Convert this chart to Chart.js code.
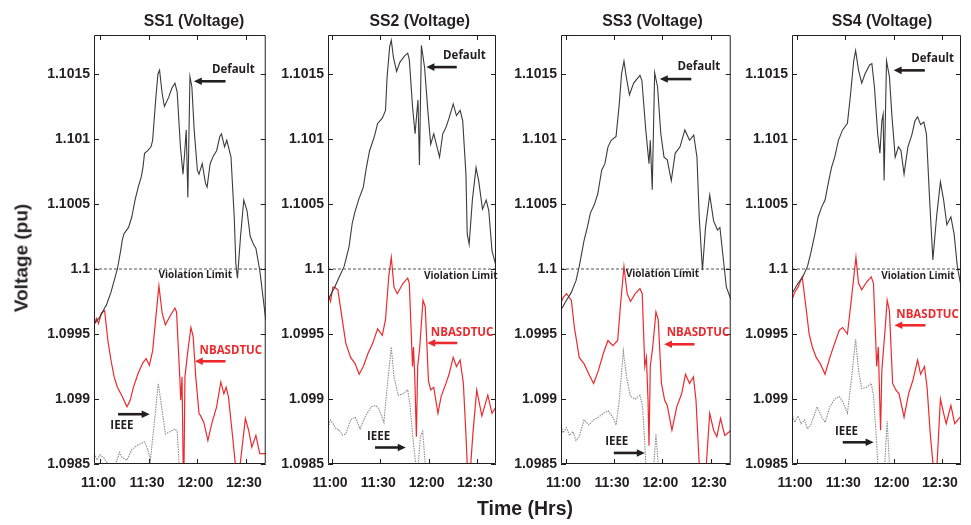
<!DOCTYPE html>
<html>
<head>
<meta charset="utf-8">
<script src="https://cdn.jsdelivr.net/npm/chart.js@4.4.1/dist/chart.umd.min.js"></script>
<style>
  html,body{margin:0;padding:0;background:#fff;}
  #wrap{position:relative;width:971px;height:525px;overflow:hidden;background:#fff;}
  canvas{position:absolute;top:0;}
  .txt{position:absolute;font-family:"Liberation Sans",Arial,sans-serif;font-weight:bold;color:#231f20;white-space:nowrap;line-height:1;}
</style>
</head>
<body>
<div id="wrap"></div>
<script>
// ---------------- DATA ----------------
const xTicks = [0, 30, 60, 90];
const xTickLabels = ['11:00', '11:30', '12:00', '12:30'];
const yTicks = [1.0985, 1.099, 1.0995, 1.1, 1.1005, 1.101, 1.1015];
const yTickLabels = ['1.0985', '1.099', '1.0995', '1.1', '1.1005', '1.101', '1.1015'];
const panelTitles = ['SS1 (Voltage)', 'SS2 (Voltage)', 'SS3 (Voltage)', 'SS4 (Voltage)'];
const seriesNames = ['Default', 'NBASDTUC', 'IEEE'];
const violationLimit = 1.1;
const yMin = 1.0985, yMax = 1.1018;

// [minutes after 11:00, voltage pu]
const ss1Default = [[-3.8,1.09958],[-0.4,1.09963],[2.6,1.0997],[3.6,1.09972],[6.5,1.09982],[8.5,1.09991],[10.5,1.1],[12.5,1.10014],[13.5,1.10022],[14.5,1.10027],[17.4,1.10032],[19.4,1.1004],[21.4,1.10053],[23.4,1.10063],[25.3,1.10071],[26.3,1.10078],[27.3,1.10089],[29.3,1.10091],[31.3,1.10094],[32.3,1.10099],[34.3,1.10132],[35.6,1.1015],[36.6,1.10153],[38.2,1.10135],[39.6,1.10125],[42.2,1.10132],[44.2,1.10139],[46.1,1.10143],[47.5,1.10136],[49.5,1.10094],[51.1,1.10073],[52.1,1.10089],[53.1,1.10107],[54.1,1.10055],[55.4,1.10148],[56.6,1.1014],[58,1.10107],[60,1.10076],[61,1.10073],[63,1.10081],[65,1.10066],[66,1.10063],[67.9,1.10081],[69.9,1.10087],[71.9,1.10091],[73.9,1.10102],[74.9,1.10104],[76.8,1.10094],[78.2,1.10099],[80.8,1.10086],[82.8,1.1004],[83.8,1.10004],[84.8,1.09993],[86.7,1.10025],[88.7,1.10053],[90.7,1.10045],[92.7,1.10025],[94.7,1.10019],[96.2,1.10016],[98.6,1.09999],[102.3,1.09961]];
const ss1Red = [[-3.8,1.09957],[-2.5,1.09962],[-1.2,1.09958],[0.6,1.09966],[2.6,1.09968],[4.6,1.09945],[6.5,1.0993],[8.5,1.09917],[10.5,1.09909],[13.5,1.09902],[16.4,1.09894],[18.4,1.09899],[20.4,1.09909],[23.4,1.0992],[26.3,1.09928],[28.3,1.09931],[30.3,1.09926],[32.3,1.09937],[34.3,1.09963],[36.2,1.09987],[38.2,1.09966],[40.2,1.09957],[43.2,1.09964],[46.1,1.0997],[47.1,1.09967],[49.1,1.09917],[49.7,1.09899],[50.5,1.09917],[51.5,1.0982],[52.3,1.09917],[54.1,1.09937],[56,1.09955],[57.4,1.09948],[59,1.09917],[61,1.09889],[62,1.09887],[64,1.09882],[66.5,1.09868],[68.9,1.09881],[71.9,1.09894],[74.5,1.09913],[76.4,1.09904],[77.8,1.09909],[79.2,1.09902],[81.8,1.09871],[83.5,1.0985],[85,1.0983],[86.5,1.0985],[89.7,1.09885],[91.7,1.09876],[93.7,1.09863],[96.2,1.09872],[98.6,1.09858],[102.3,1.09858]];
const ss1Ieee = [[-3.8,1.09858],[-2,1.09853],[-0.4,1.09857],[2,1.09855],[4.6,1.0985],[7,1.09846],[10,1.09852],[11.8,1.09859],[13.5,1.09855],[16.4,1.09853],[19.4,1.09861],[22.4,1.09864],[25.3,1.09866],[27.3,1.09867],[29.3,1.09861],[30.9,1.09853],[33.3,1.09881],[35.8,1.09912],[38.2,1.09891],[40.2,1.09873],[43.2,1.09875],[46.1,1.09877],[47.5,1.09875],[48.7,1.0985],[50,1.0982]];

const ss2Default = [[-2.6,1.09976],[1.6,1.09986],[4.5,1.09994],[7.5,1.10002],[10.5,1.10017],[12.5,1.10035],[14,1.10043],[16.4,1.10053],[19.4,1.10063],[21.3,1.10078],[23.3,1.10091],[26.3,1.10102],[28.3,1.10112],[31.2,1.10116],[33.2,1.10122],[34.2,1.10148],[35.8,1.10171],[36.8,1.10176],[38.1,1.10163],[40.1,1.10152],[42.1,1.10159],[45.1,1.10164],[47,1.10166],[48,1.10161],[50,1.10125],[51.6,1.10104],[52.6,1.10119],[53.4,1.1013],[54.3,1.1008],[55.5,1.10172],[57.5,1.10155],[59.5,1.10122],[61.3,1.10096],[63.2,1.10104],[64.8,1.10096],[66.8,1.10086],[68.8,1.10104],[70.8,1.10109],[72.7,1.10116],[75.3,1.10127],[77.3,1.10118],[79.6,1.10122],[81.2,1.10114],[83.2,1.10073],[84,1.10027],[85.2,1.10019],[87.2,1.10053],[89.5,1.10078],[91.1,1.10068],[93.5,1.10046],[95.8,1.10053],[97.4,1.10045],[99.4,1.10014],[102,1.10002]];
const ss2Red = [[-2.6,1.09981],[-1,1.09975],[0.5,1.09986],[1.6,1.09986],[3.6,1.09984],[5.5,1.09968],[8.5,1.09943],[11.5,1.09932],[14.4,1.09927],[16.8,1.09919],[19.4,1.09925],[22.3,1.09935],[25.3,1.09943],[28.3,1.09954],[31.2,1.09949],[33.2,1.09961],[35.2,1.09994],[36.8,1.10009],[38.5,1.09986],[40.5,1.09981],[44.1,1.09989],[47,1.09993],[48,1.09989],[50,1.09925],[50.6,1.0994],[51.4,1.09917],[52.4,1.09871],[53.2,1.09925],[54.5,1.0994],[56.5,1.09976],[57.9,1.09971],[59.9,1.09914],[61.3,1.09907],[63.2,1.09909],[65.8,1.09889],[67.8,1.09902],[70.8,1.09912],[72.7,1.09919],[75.3,1.09932],[77.3,1.09925],[79.6,1.0993],[81.6,1.09912],[83.2,1.09873],[84,1.0985],[85,1.0983],[86.2,1.0985],[87.5,1.09873],[89.9,1.09907],[93.1,1.09887],[96.8,1.09903],[99.4,1.09889],[102,1.09894]];
const ss2Ieee = [[-2.6,1.09878],[-1,1.09884],[0.6,1.09881],[2.5,1.09877],[4.5,1.09876],[6.5,1.09872],[8.5,1.09873],[11.5,1.09884],[14.4,1.09886],[17.4,1.09877],[20.4,1.09886],[24.3,1.09894],[27.3,1.09895],[29.2,1.09892],[32.2,1.09882],[34.2,1.09909],[36.8,1.0994],[38.5,1.09917],[41.1,1.09903],[44.1,1.09904],[47,1.09907],[48.4,1.09896],[50,1.09873],[52,1.0985],[53,1.0984],[54.9,1.09871],[56.3,1.09875],[57.9,1.0985],[58.9,1.0983]];

const ss3Default = [[-3,1.09968],[0.6,1.09976],[3.6,1.09982],[6.5,1.09991],[8.5,1.10002],[11.5,1.10022],[13.5,1.10032],[15.4,1.10043],[18,1.1005],[20,1.10058],[22.4,1.10076],[24.4,1.10081],[26.3,1.10094],[28.3,1.10099],[31.3,1.10102],[33.3,1.10127],[34.7,1.1015],[36.2,1.1016],[37.6,1.10148],[39.6,1.10134],[42.2,1.10143],[46.1,1.10149],[47.3,1.10145],[49.7,1.10107],[51.7,1.10081],[52.5,1.10099],[53.7,1.10061],[55.2,1.10151],[57,1.1014],[59,1.10104],[61,1.10086],[63,1.10084],[65.5,1.10068],[67.9,1.10089],[70.9,1.10094],[73.9,1.10107],[76.8,1.10099],[79.4,1.10103],[81.4,1.10086],[82.8,1.1004],[84.8,1.09999],[86.7,1.10032],[89.3,1.10057],[91.7,1.10037],[94.1,1.1003],[95.6,1.10032],[97.6,1.10009],[99.6,1.09986],[102.6,1.09976]];
const ss3Red = [[-3,1.09973],[-1.5,1.09978],[0.6,1.09981],[3.6,1.09976],[5.5,1.09955],[8.5,1.09932],[11.5,1.09927],[14.5,1.09919],[17.4,1.09912],[20.4,1.09922],[23.4,1.09935],[26.3,1.09945],[29.3,1.09941],[32.3,1.09945],[34.3,1.09976],[36.2,1.10002],[38.2,1.09981],[40.2,1.09975],[43.2,1.09981],[46.1,1.09985],[47.5,1.09981],[49.1,1.09925],[50.1,1.09932],[51.1,1.09899],[51.7,1.09864],[52.5,1.09925],[54,1.0994],[56,1.09967],[57.4,1.09961],[59.4,1.09912],[61.4,1.09899],[63,1.09895],[65.9,1.09876],[68.9,1.09894],[71.9,1.09904],[74.3,1.09919],[76.8,1.09912],[79.2,1.09917],[80.8,1.09899],[82.8,1.0985],[85,1.0983],[87.2,1.0985],[89.3,1.09889],[91.7,1.09876],[93.7,1.09871],[96,1.09885],[98.6,1.09872],[102.6,1.09876]];
const ss3Ieee = [[-3,1.09881],[-1.5,1.09874],[0.6,1.09878],[2.5,1.09872],[4.6,1.09875],[6.5,1.09868],[8.5,1.09871],[11.5,1.09884],[14.5,1.0988],[17.4,1.09884],[20.4,1.09886],[23.4,1.09889],[26.3,1.09891],[29.3,1.09886],[31.3,1.0988],[33.3,1.09899],[35.8,1.09937],[37.8,1.09917],[40.2,1.09902],[43.2,1.099],[46.1,1.09903],[47.7,1.09894],[49.1,1.09866],[50.1,1.0984],[52,1.0983],[54.7,1.0985],[56,1.09873],[57.4,1.0985],[58.5,1.0983]];

const ss4Default = [[-3.2,1.09981],[0.6,1.09989],[3.6,1.09994],[6.5,1.10002],[8.5,1.10012],[11.1,1.10027],[13.1,1.1004],[15.4,1.10048],[17.4,1.10053],[19.4,1.10066],[21.4,1.10078],[23.4,1.10086],[25.7,1.10099],[28.3,1.10107],[31.3,1.10112],[33.3,1.10135],[35.2,1.1016],[36.4,1.10168],[38.2,1.10153],[40.2,1.10143],[42.2,1.1015],[45.1,1.10157],[46.5,1.10158],[48.1,1.1014],[50.1,1.10104],[51.5,1.10089],[52.7,1.10114],[53.5,1.10119],[54.1,1.10068],[55.6,1.1016],[57.4,1.10148],[59,1.10117],[61,1.10086],[63,1.10094],[64.6,1.10091],[66.5,1.10073],[68.9,1.10094],[71.3,1.10103],[73.3,1.10114],[74.9,1.10117],[76.8,1.10111],[78.8,1.10113],[80.4,1.10104],[82.4,1.10053],[84.4,1.10007],[86.7,1.1004],[89.1,1.10067],[91.1,1.10053],[93.1,1.10034],[95.6,1.1004],[97.6,1.10027],[99.6,1.10002],[102,1.09986]];
const ss4Red = [[-3.2,1.09976],[-1.5,1.09982],[0.6,1.09986],[3.2,1.09994],[5.5,1.09971],[7.5,1.0995],[9.5,1.0994],[11.9,1.09932],[14.5,1.09927],[17.4,1.09919],[20.4,1.09932],[23.4,1.09943],[26.3,1.09953],[28.3,1.09955],[31.3,1.0995],[33.7,1.09976],[36.6,1.10009],[38.2,1.09989],[40.2,1.09984],[43.2,1.0999],[46.1,1.09994],[47.5,1.09989],[49.5,1.09925],[50.5,1.0994],[51.1,1.09912],[51.9,1.09876],[52.7,1.09922],[54.5,1.0995],[56,1.09976],[57.4,1.09968],[59.4,1.09912],[61.4,1.09907],[63.4,1.09904],[66.5,1.09886],[69.3,1.09904],[71.9,1.09914],[74.9,1.0993],[76.8,1.09919],[79.2,1.09925],[80.8,1.09909],[82.8,1.09873],[84.5,1.0985],[85.7,1.0983],[87,1.0985],[89.1,1.099],[91.1,1.09889],[92.7,1.09881],[95.6,1.09895],[98,1.09881],[102,1.09887]];
const ss4Ieee = [[-3.2,1.09889],[-1.5,1.09882],[0.6,1.09887],[2.5,1.09881],[4.6,1.09884],[6.5,1.09877],[8.5,1.0988],[12.5,1.09894],[15.4,1.09886],[17.4,1.09882],[20.4,1.09894],[23.4,1.099],[26.3,1.09902],[28.3,1.09898],[31.3,1.09889],[33.7,1.09914],[36.4,1.09946],[38.2,1.09922],[40.2,1.09908],[43.2,1.09909],[46.1,1.09912],[47.5,1.09903],[49.1,1.09873],[50.7,1.0984],[52.5,1.0983],[54.5,1.0985],[56,1.09883],[57.4,1.0985],[58.5,1.0983]];

// ---------------- LAYOUT / STYLE ----------------
const panels = [
  {left:94,  right:273, xMin:-3.98, xMax:102.3, titleX:194,   series:[ss1Default, ss1Red, ss1Ieee],
   ann:{def:[82.2,1.10153, 77.4,57.8,1.101444], vl:[58.7,1.099952], nb:[80.7,1.09937, 77.4,58.4,1.09929], ie:[13.3,1.098798, 10.9,30.5,1.098883]}},
  {left:328, right:504, xMin:-2.55, xMax:101.9, titleX:419.8, series:[ss2Default, ss2Red, ss2Ieee],
   ann:{def:[82.3,1.101643, 77.5,58.6,1.101553], vl:[80,1.099944], nb:[80.8,1.099508, 77.8,59.1,1.099431], ie:[28.9,1.098708, 26.7,45.8,1.098627]}},
  {left:561, right:738, xMin:-2.79, xMax:102.3, titleX:652.5, series:[ss3Default, ss3Red, ss3Ieee],
   ann:{def:[82.6,1.101553, 77.9,58.4,1.101461], vl:[60,1.099959], nb:[82,1.099508, 79.9,61,1.099421], ie:[31.7,1.09867, 29.9,49.1,1.098585]}},
  {left:792, right:969, xMin:-3.14, xMax:101.9, titleX:882,   series:[ss4Default, ss4Red, ss4Ieee],
   ann:{def:[84.3,1.101618, 79.4,60,1.101528], vl:[75.1,1.099944], nb:[81.1,1.099649, 79.8,60.5,1.099567], ie:[30.7,1.098747, 28.4,47.6,1.098667]}}
];
const AXIS_W = 94, PAD_TOP = 35, PAD_BOTTOM = 21, X_AXIS_H = 40, PAD_RIGHT = 2, H = 525;
const INK = '#231f20';
const BLACK = '#3b3b3b', RED = '#ec2a2e', GRAY = '#8e8e8e';
const tickFont = {family:'"Liberation Sans", Arial, sans-serif', size:14, weight:'bold'};

function drawArrow(ctx, x1, x2, yy, color) {
  const dir = x2 > x1 ? 1 : -1;
  ctx.save();
  ctx.strokeStyle = color; ctx.fillStyle = color;
  ctx.lineWidth = 2.6;
  ctx.beginPath(); ctx.moveTo(x1, yy); ctx.lineTo(x2 - dir * 6, yy); ctx.stroke();
  ctx.beginPath();
  ctx.moveTo(x2, yy); ctx.lineTo(x2 - dir * 8, yy - 3.8); ctx.lineTo(x2 - dir * 8, yy + 3.8);
  ctx.closePath(); ctx.fill();
  ctx.restore();
}

const decoPlugin = {
  id: 'deco',
  afterDatasetsDraw(chart, args, opts) {
    const {ctx, chartArea: a, scales: {x, y}} = chart;
    ctx.save();
    ctx.strokeStyle = INK; ctx.lineWidth = 1;
    ctx.beginPath();
    ctx.rect(a.left + 0.5, a.top + 0.5, a.right - a.left - 1, a.bottom - a.top - 1);
    ctx.stroke();
    ctx.beginPath();
    xTicks.forEach(v => {
      const px = Math.round(x.getPixelForValue(v)) + 0.5;
      ctx.moveTo(px, a.top); ctx.lineTo(px, a.top + 5);
      ctx.moveTo(px, a.bottom); ctx.lineTo(px, a.bottom - 5);
    });
    yTicks.forEach(v => {
      const py = Math.round(y.getPixelForValue(v)) + 0.5;
      ctx.moveTo(a.left, py); ctx.lineTo(a.left + 5, py);
      ctx.moveTo(a.right, py); ctx.lineTo(a.right - 5, py);
    });
    ctx.stroke();

    const an = opts.ann;
    const X = v => x.getPixelForValue(v), Y = v => y.getPixelForValue(v);
    ctx.textAlign = 'center'; ctx.textBaseline = 'middle';
    ctx.font = 'bold 11.5px "Open Sans", sans-serif';
    ctx.fillStyle = INK;
    ctx.fillText(seriesNames[0], X(an.def[0]), Y(an.def[1]));
    drawArrow(ctx, X(an.def[2]), X(an.def[3]), Y(an.def[4]), '#231f20');
    ctx.fillStyle = INK;
    ctx.fillText(seriesNames[2], X(an.ie[0]), Y(an.ie[1]));
    drawArrow(ctx, X(an.ie[2]), X(an.ie[3]), Y(an.ie[4]), '#231f20');
    ctx.fillStyle = RED;
    ctx.fillText(seriesNames[1], X(an.nb[0]), Y(an.nb[1]));
    drawArrow(ctx, X(an.nb[2]), X(an.nb[3]), Y(an.nb[4]), RED);
    ctx.fillStyle = INK;
    ctx.font = 'bold 10px "Open Sans", sans-serif';
    ctx.fillText('Violation Limit', X(an.vl[0]), Y(an.vl[1]));
    ctx.restore();
  }
};

const wrap = document.getElementById('wrap');
panels.forEach((p, i) => {
  const cv = document.createElement('canvas');
  const w = AXIS_W + (p.right - p.left) + PAD_RIGHT;
  cv.width = w; cv.height = H;
  cv.style.left = (p.left - AXIS_W) + 'px';
  cv.style.width = w + 'px'; cv.style.height = H + 'px';
  wrap.appendChild(cv);

  const t = document.createElement('div');
  t.className = 'txt';
  t.style.fontSize = '15.8px';
  t.style.left = p.titleX + 'px'; t.style.top = '20.7px';
  t.style.transform = 'translate(-50%,-50%)';
  t.textContent = panelTitles[i];
  wrap.appendChild(t);

  const pts = arr => arr.map(([x, y]) => ({x, y}));
  new Chart(cv, {
    type: 'line',
    data: {
      datasets: [
        {label: 'Violation Limit', data: [{x:p.xMin, y:violationLimit}, {x:p.xMax, y:violationLimit}],
         borderColor: '#555', borderWidth: 1, borderDash: [3, 2], clip: 0},
        {label: seriesNames[2], data: pts(p.series[2]), borderColor: GRAY, borderWidth: 1.1, borderDash: [1.5, 1], clip: 0},
        {label: seriesNames[0], data: pts(p.series[0]), borderColor: BLACK, borderWidth: 1.1, clip: 0},
        {label: seriesNames[1], data: pts(p.series[1]), borderColor: RED, borderWidth: 1.2, clip: 0}
      ]
    },
    options: {
      responsive: false, animation: false, events: [],
      layout: {padding: {top: PAD_TOP, right: PAD_RIGHT, bottom: PAD_BOTTOM, left: 0}},
      elements: {point: {radius: 0}, line: {tension: 0}},
      plugins: {legend: {display: false}, tooltip: {enabled: false}, deco: {ann: p.ann}},
      scales: {
        x: {
          type: 'linear', min: p.xMin, max: p.xMax,
          grid: {display: false, drawTicks: false},
          border: {display: false},
          afterBuildTicks: s => { s.ticks = xTicks.map(v => ({value: v})); },
          afterFit: s => { s.height = X_AXIS_H; },
          ticks: {font: tickFont, color: INK, padding: 11, maxRotation: 0, autoSkip: false, labelOffset: -2,
                  callback: (v) => xTickLabels[xTicks.indexOf(v)]}
        },
        y: {
          type: 'linear', min: yMin, max: yMax,
          grid: {display: false, drawTicks: false},
          border: {display: false},
          afterBuildTicks: s => { s.ticks = yTicks.map(v => ({value: v})); },
          afterFit: s => { s.width = AXIS_W; },
          ticks: {font: tickFont, color: INK, padding: 4, autoSkip: false,
                  callback: (v) => yTickLabels[yTicks.indexOf(v)]}
        }
      }
    },
    plugins: [decoPlugin]
  });
});

const yl = document.createElement('div');
yl.className = 'txt';
yl.style.fontSize = '19px';
yl.style.left = '21px'; yl.style.top = '258px';
yl.style.transform = 'translate(-50%,-50%) rotate(-90deg)';
yl.textContent = 'Voltage (pu)';
wrap.appendChild(yl);

const xl = document.createElement('div');
xl.className = 'txt';
xl.style.fontSize = '19.5px';
xl.style.left = '525px'; xl.style.top = '509px';
xl.style.transform = 'translate(-50%,-50%)';
xl.textContent = 'Time (Hrs)';
wrap.appendChild(xl);
</script>
</body>
</html>
